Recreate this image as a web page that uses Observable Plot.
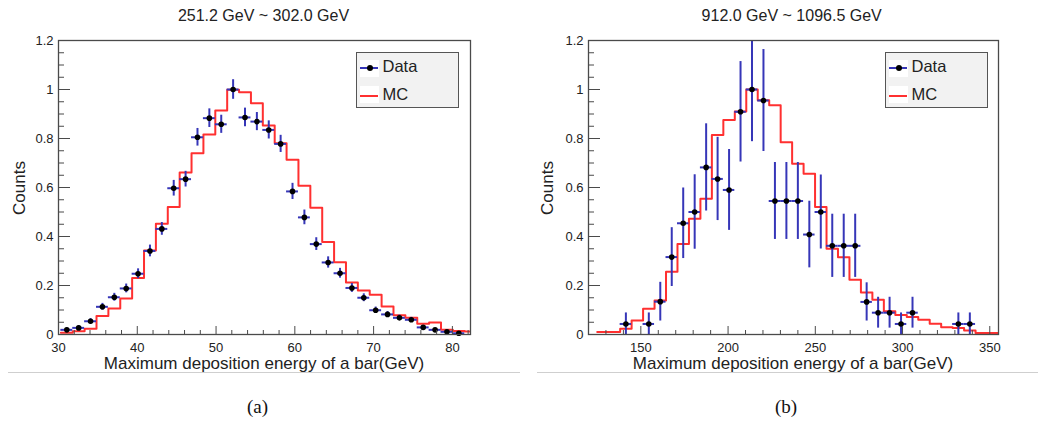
<!DOCTYPE html>
<html><head><meta charset="utf-8">
<script src="https://cdn.jsdelivr.net/npm/d3@7"></script>
<script src="https://cdn.jsdelivr.net/npm/@observablehq/plot@0.6"></script>
<style>
body{margin:0;background:#fff;}
#wrap{position:relative;width:1038px;height:423px;overflow:hidden;font-family:"Liberation Sans",Arial,sans-serif;color:#222;}
.panel{position:absolute;top:0;}
.t{position:absolute;white-space:nowrap;line-height:1;}
.c{transform:translateX(-50%);}
.rot{transform:translate(-50%,-50%) rotate(-90deg);}
.sep{position:absolute;height:0;border-top:1px solid #cfcfcf;}
.leg{position:absolute;background:#f2f2f2;border:1.3px solid #555;box-sizing:border-box;}
.sym{position:absolute;background:#fff;}
.cap{font-family:"Liberation Serif","Times New Roman",serif;}
</style></head><body><div id="wrap"></div>
<script>
// ---------- data (a) 251.2 GeV ~ 302.0 GeV ----------
const leftRange = [30, 82.3];
const leftBinStart = 30.3;
const leftBinWidth = 1.508;
const leftBins = [0,1,2,3,4,5,6,7,8,9,10,11,12,13,14,15,16,17,18,19,20,21,22,23,24,25,26,27,28,29,30,31,32,33];
const leftValues = [0.019,0.027,0.054,0.113,0.152,0.188,0.248,0.341,0.431,0.597,0.634,0.805,0.883,0.858,1.0,0.886,0.869,0.835,0.778,0.584,0.478,0.369,0.294,0.250,0.190,0.150,0.099,0.082,0.068,0.060,0.029,0.019,0.011,0.005];
const leftErrors = [0.008,0.009,0.011,0.014,0.016,0.018,0.02,0.024,0.026,0.032,0.032,0.036,0.038,0.037,0.04,0.038,0.037,0.037,0.035,0.033,0.03,0.026,0.023,0.02,0.018,0.016,0.013,0.012,0.011,0.01,0.007,0.006,0.005,0.004];
const leftMC = [0.007,0.013,0.023,0.076,0.106,0.147,0.231,0.343,0.452,0.52,0.661,0.74,0.816,0.914,0.999,0.989,0.944,0.853,0.781,0.713,0.607,0.517,0.378,0.295,0.212,0.18,0.162,0.114,0.079,0.068,0.044,0.049,0.019,0.014,0.012];
const leftXMajor = [30,40,50,60,70,80];
const leftXMinor = [32,34,36,38,42,44,46,48,52,54,56,58,62,64,66,68,72,74,76,78,82];

// ---------- data (b) 912.0 GeV ~ 1096.5 GeV ----------
const rightRange = [120, 355];
const rightBinStart = 125;
const rightBinWidth = 6.5714;
const rightBins = [2,4,5,6,7,8,9,10,11,12,13,14,15,16,17,18,19,20,21,22,23,24,25,26,27,31,32];
const rightValues = [0.043,0.043,0.134,0.316,0.454,0.5,0.682,0.635,0.59,0.909,1.0,0.955,0.545,0.545,0.545,0.408,0.5,0.362,0.362,0.362,0.133,0.089,0.089,0.043,0.089,0.043,0.043];
const rightErrors = [0.045,0.045,0.079,0.12,0.144,0.152,0.178,0.17,0.165,0.205,0.213,0.208,0.157,0.157,0.157,0.136,0.151,0.129,0.129,0.129,0.078,0.063,0.063,0.045,0.063,0.045,0.045];
const rightMC = [0.01,0.01,0.023,0.057,0.105,0.139,0.256,0.369,0.472,0.554,0.814,0.876,0.91,1.0,0.956,0.936,0.785,0.697,0.656,0.52,0.35,0.315,0.223,0.171,0.142,0.095,0.08,0.071,0.06,0.044,0.03,0.027,0.016,0.006,0.006];
const rightXMajor = [150,200,250,300,350];
const rightXMinor = [120,130,140,160,170,180,190,210,220,230,240,260,270,280,290,310,320,330,340];

const yMajor = [0,0.2,0.4,0.6,0.8,1,1.2];
const yMinor = [0.05,0.1,0.15,0.25,0.3,0.35,0.45,0.5,0.55,0.65,0.7,0.75,0.85,0.9,0.95,1.05,1.1,1.15];

const titles = ["251.2 GeV ~ 302.0 GeV", "912.0 GeV ~ 1096.5 GeV"];
const xTitle = "Maximum deposition energy of a bar(GeV)";
const yTitle = "Counts";
const captions = ["(a)", "(b)"];
const legendLabels = ["Data", "MC"];

const BLUE = "#3636b8", RED = "#ff3030", AX = "#4a4a4a", TXT = "#222";

function makeChart(cfg) {
  const n = cfg.mc.length;
  const edge = i => cfg.binStart + i * cfg.binWidth;
  const mcPts = cfg.mc.map((v, i) => ({x: edge(i), y: v})).concat([{x: edge(n), y: cfg.mc[n - 1]}]);
  const pts = cfg.bins.map((b, k) => ({x0: edge(b), x1: edge(b + 1), x: edge(b + 0.5), y: cfg.values[k], e: cfg.errors[k]}));
  const fmt = d => String(+d.toFixed(1));
  return Plot.plot({
    width: cfg.width, height: 423,
    marginTop: 40, marginBottom: 89, marginLeft: cfg.marginLeft, marginRight: cfg.marginRight,
    x: {domain: cfg.xDomain, label: null},
    y: {domain: [0, 1.2], label: null},
    style: {fontFamily: "'Liberation Sans', Arial, sans-serif", background: "transparent", color: TXT, overflow: "visible"},
    marks: [
      Plot.line(mcPts, {x: "x", y: "y", curve: "step-after", stroke: RED, strokeWidth: 2, clip: true}),
      Plot.ruleY(pts, {y: "y", x1: "x0", x2: "x1", stroke: BLUE, strokeWidth: 2, clip: true}),
      Plot.ruleX(pts, {x: "x", y1: d => d.y - d.e, y2: d => d.y + d.e, stroke: BLUE, strokeWidth: 2, clip: true}),
      Plot.dot(pts, {x: "x", y: "y", r: 2.8, fill: "#000", stroke: "none"}),
      Plot.axisY(yMinor, {tickSize: -6, fill: "none", stroke: AX, label: null}),
      Plot.axisY(yMajor, {tickSize: -12, fill: "none", stroke: AX, label: null}),
      Plot.axisY(yMajor, {tickSize: 0, tickPadding: 5, tickFormat: fmt, fontSize: 13, fill: TXT, label: null}),
      Plot.axisX(cfg.xMinor, {tickSize: -4, fill: "none", stroke: AX, label: null}),
      Plot.axisX(cfg.xMajor, {tickSize: -8, fill: "none", stroke: AX, label: null}),
      Plot.axisX(cfg.xMajor, {tickSize: 0, tickPadding: 8, fontSize: 13, fill: TXT, label: null}),
      Plot.frame({stroke: AX, strokeWidth: 1.3})
    ]
  });
}

const wrap = document.getElementById("wrap");
function addDiv(cls, style, text) {
  const d = document.createElement("div");
  d.className = cls;
  Object.assign(d.style, style);
  if (text != null) d.textContent = text;
  wrap.appendChild(d);
  return d;
}

const panels = [
  {left: 0, width: 520, marginLeft: 58, marginRight: 50, xDomain: leftRange, binStart: leftBinStart, binWidth: leftBinWidth,
   bins: leftBins, values: leftValues, errors: leftErrors, mc: leftMC, xMajor: leftXMajor, xMinor: leftXMinor,
   titleX: 263.5, yLabX: 18.5, xTitleX: 264, capX: 257.5, legX: 356, sepX: 8, sepW: 512},
  {left: 519, width: 519, marginLeft: 69, marginRight: 40, xDomain: rightRange, binStart: rightBinStart, binWidth: rightBinWidth,
   bins: rightBins, values: rightValues, errors: rightErrors, mc: rightMC, xMajor: rightXMajor, xMinor: rightXMinor,
   titleX: 791.7, yLabX: 546.7, xTitleX: 793, capX: 786, legX: 885, sepX: 537, sepW: 501}
];

panels.forEach((p, idx) => {
  const holder = addDiv("panel", {left: p.left + "px", width: p.width + "px", height: "423px"});
  holder.appendChild(makeChart(p));
  // title
  addDiv("t c", {left: p.titleX + "px", top: (21.7 - 0.8465 * 16) + "px", fontSize: "16px"}, titles[idx]);
  // y title
  addDiv("t rot", {left: p.yLabX + "px", top: "187.5px", fontSize: "17px"}, yTitle);
  // x title
  addDiv("t c", {left: p.xTitleX + "px", top: (369 - 0.8465 * 17) + "px", fontSize: "17px"}, xTitle);
  // separator
  addDiv("sep", {left: p.sepX + "px", width: p.sepW + "px", top: "372px"});
  // caption
  addDiv("t c cap", {left: p.capX + "px", top: (413.3 - 0.8375 * 19) + "px", fontSize: "19px", color: "#111"}, captions[idx]);
  // legend
  const leg = addDiv("leg", {left: p.legX + "px", top: "52px", width: "103px", height: "56px"});
  const mk = (style, text, cls) => { const d = document.createElement("div"); d.className = cls || ""; Object.assign(d.style, {position: "absolute"}, style); if (text != null) d.textContent = text; leg.appendChild(d); return d; };
  mk({left: "3px", top: "7px", width: "19px", height: "17px", background: "#fff"});
  mk({left: "3px", top: "33px", width: "19px", height: "17px", background: "#fff"});
  mk({left: "3px", top: "14.3px", width: "18px", height: "2px", background: BLUE});
  mk({left: "9.5px", top: "12.3px", width: "6px", height: "6px", borderRadius: "50%", background: "#000"});
  mk({left: "3px", top: "42px", width: "18px", height: "2px", background: RED});
  mk({left: "25.5px", top: (72.7 - 52 - 0.8465 * 16.5 - 1.3) + "px", fontSize: "16.5px", lineHeight: "1", whiteSpace: "nowrap"}, legendLabels[0]);
  mk({left: "25.5px", top: (100 - 52 - 0.8465 * 16.5 - 1.3) + "px", fontSize: "16.5px", lineHeight: "1", whiteSpace: "nowrap"}, legendLabels[1]);
});
</script></body></html>
